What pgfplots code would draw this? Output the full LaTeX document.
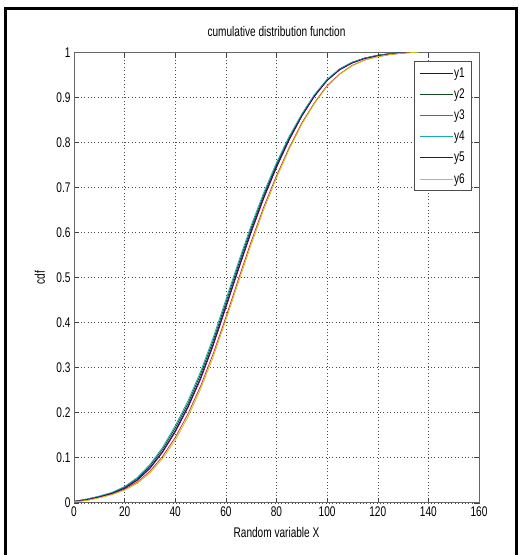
\documentclass[border=0pt]{standalone}
\usepackage{pgfplots}
\pgfplotsset{compat=1.18}
\usepackage{fontspec}
\setmainfont{Liberation Sans}[FakeStretch=0.72]
\definecolor{c1}{RGB}{20,20,90}
\definecolor{c2}{RGB}{15,75,35}
\definecolor{c3}{RGB}{200,60,60}
\definecolor{c4}{RGB}{20,175,175}
\definecolor{c5}{RGB}{85,0,95}
\definecolor{c6}{RGB}{205,195,20}
\newcommand{\ff}{\fontsize{14}{16}\selectfont}
\begin{document}
\begin{tikzpicture}
\useasboundingbox (0pt,0pt) rectangle (522pt,555pt);
\fill[white] (0pt,0pt) rectangle (522pt,555pt);
\draw[line width=2.5pt] (5.5pt,0pt) -- (5.5pt,546.5pt) -- (516.5pt,546.5pt) -- (516.5pt,0pt);
\begin{axis}[
  at={(74pt,52.2pt)}, anchor=south west,
  scale only axis, width=405pt, height=450.6pt,
  xmin=0, xmax=160, ymin=0, ymax=1,
  xtick={0,20,40,60,80,100,120,140,160},
  ytick={0,0.1,0.2,0.3,0.4,0.5,0.6,0.7,0.8,0.9,1},
  yticklabels={0,0.1,0.2,0.3,0.4,0.5,0.6,0.7,0.8,0.9,1},
  /pgf/number format/assume math mode=true,
  tick align=inside, tick pos=both,
  major tick length=5pt,
  tick style={black!75, line width=0.5pt},
  axis line style={black!60, line width=0.8pt},
  grid=major,
  major grid style={black!70, line width=0.5pt, dash pattern=on 0.8pt off 2.6pt},
  ticklabel style={font=\ff},
  xticklabel style={yshift=0pt},
  label style={font=\ff},
  title style={font=\ff, at={(axis description cs:0.5,1.033)}, anchor=center},
  title={cumulative distribution function},
  xlabel={Random variable X},
  ylabel={cdf},
  xlabel style={at={(axis description cs:0.5,-0.067)}, anchor=center},
  ylabel style={at={(axis description cs:-0.084,0.5)}, anchor=center},
  legend style={at={(0.980,0.980)}, anchor=north east, draw=black!70, fill=white,
    font=\ff, row sep=8pt, inner xsep=5pt, inner ysep=5pt,
    nodes={inner sep=1pt}},
  legend cell align=left,
  legend image code/.code={\draw[#1,line width=0.8pt] (0pt,0pt) -- (33pt,0pt);},
  every axis plot/.append style={line width=0.8pt},
]
\addplot[c1] coordinates {(0,0.003)(5,0.007)(10,0.013)(15,0.021)(20,0.033)(25,0.051)(30,0.078)(35,0.114)(40,0.160)(45,0.214)(50,0.278)(55,0.353)(60,0.437)(65,0.522)(70,0.604)(75,0.679)(80,0.747)(85,0.807)(90,0.859)(95,0.903)(100,0.938)(105,0.962)(110,0.977)(115,0.987)(120,0.993)(125,0.997)(130,0.999)(135,1.000)};
\addlegendentry{y1}
\addplot[c2] coordinates {(0,0.003)(5,0.008)(10,0.014)(15,0.022)(20,0.035)(25,0.054)(30,0.082)(35,0.119)(40,0.166)(45,0.220)(50,0.285)(55,0.360)(60,0.444)(65,0.529)(70,0.610)(75,0.684)(80,0.751)(85,0.810)(90,0.861)(95,0.905)(100,0.939)(105,0.963)(110,0.978)(115,0.987)(120,0.993)(125,0.997)(130,0.999)(134,1.000)};
\addlegendentry{y2}
\addplot[c3] coordinates {(0,0.002)(5,0.006)(10,0.012)(15,0.019)(20,0.030)(25,0.046)(30,0.070)(35,0.103)(40,0.145)(45,0.197)(50,0.259)(55,0.331)(60,0.412)(65,0.497)(70,0.580)(75,0.657)(80,0.726)(85,0.788)(90,0.843)(95,0.888)(100,0.926)(105,0.952)(110,0.971)(115,0.983)(120,0.990)(125,0.995)(130,0.998)(135,1.000)};
\addlegendentry{y3}
\addplot[c4] coordinates {(0,0.003)(5,0.008)(10,0.015)(15,0.023)(20,0.036)(25,0.056)(30,0.085)(35,0.123)(40,0.171)(45,0.226)(50,0.291)(55,0.367)(60,0.451)(65,0.535)(70,0.616)(75,0.689)(80,0.755)(85,0.813)(90,0.863)(95,0.906)(100,0.940)(105,0.963)(110,0.978)(115,0.987)(120,0.993)(125,0.997)(130,0.999)(135,1.000)};
\addlegendentry{y4}
\addplot[c5] coordinates {(0,0.003)(5,0.007)(10,0.013)(15,0.021)(20,0.032)(25,0.050)(30,0.076)(35,0.112)(40,0.157)(45,0.211)(50,0.274)(55,0.349)(60,0.433)(65,0.518)(70,0.600)(75,0.676)(80,0.744)(85,0.805)(90,0.858)(95,0.902)(100,0.937)(105,0.961)(110,0.976)(115,0.986)(120,0.992)(125,0.996)(130,0.999)(135,1.000)};
\addlegendentry{y5}
\addplot[c6] coordinates {(0,0.002)(5,0.005)(10,0.011)(15,0.018)(20,0.028)(25,0.043)(30,0.066)(35,0.098)(40,0.139)(45,0.190)(50,0.252)(55,0.324)(60,0.405)(65,0.490)(70,0.573)(75,0.651)(80,0.721)(85,0.784)(90,0.840)(95,0.886)(100,0.924)(105,0.951)(110,0.970)(115,0.983)(120,0.990)(125,0.995)(130,0.998)(136,1.000)};
\addlegendentry{y6}
\end{axis}
\end{tikzpicture}
\end{document}
